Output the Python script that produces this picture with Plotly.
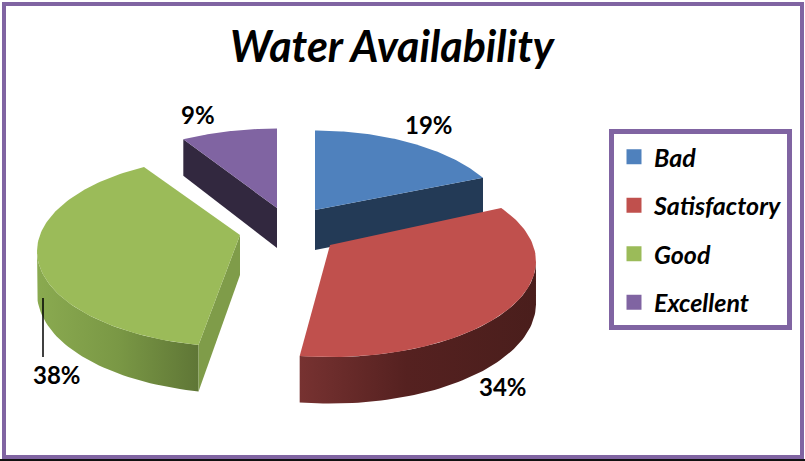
import numpy as np
import plotly.graph_objects as go

# --- data -------------------------------------------------------------
categories = ["Bad", "Satisfactory", "Good", "Excellent"]
percents = [19, 34, 38, 9]
title_text = "Water Availability"

# --- style / geometry of the fake-3D exploded pie -----------------------
W, H = 805, 461
FONT = "Lato"
top_colors = ["#4F81BD", "#C0504D", "#9BBB59", "#8064A2"]
apexes = [(315, 210), (330, 245), (240, 235), (277, 208)]   # exploded slice apexes (px)
slice_rx = [192, 203, 200, 200]
slice_rot = [0.0, -0.064, -0.015, 0.0]
RY, PERSP = 93, 0.17
cut_colors = ["#233A56", None, "#7F9C49", "#32283F"]
cut_at_end = [True, False, False, False]
wall_scales = [
    None,
    [[0, "#773231"], [0.45, "#552120"], [1, "#4A1E1C"]],
    [[0, "#8AAA50"], [0.5, "#7A9845"], [1, "#5F7636"]],
    None,
]
label_pos = [(429, 124), (503, 386), (57, 374), (198, 114)]


def project(theta, i):
    s, c = np.sin(theta + slice_rot[i]), np.cos(theta + slice_rot[i])
    d = 1 + PERSP * c
    return apexes[i][0] + slice_rx[i] * s / d, apexes[i][1] - RY * c / d


def depth(theta):
    return 41 - 5.5 * np.cos(theta)


fig = go.Figure()
fractions = np.array(percents) / sum(percents)
ends = np.cumsum(fractions) * 2 * np.pi
starts = ends - fractions * 2 * np.pi


def poly(xs, ys, **kw):
    fig.add_trace(go.Scatter(x=xs, y=ys, mode="lines", fill="toself", line=dict(width=0),
                             hoverinfo="skip", showlegend=False, **kw))


for i in [3, 0, 2, 1]:
    th = np.linspace(starts[i], ends[i], 90)
    rx, ry = project(th, i)
    # outer wall (only the part facing the viewer)
    if wall_scales[i] is not None:
        if i == 1:
            j = int(np.argmax(rx))
            tw = th[j:]
        else:
            j = int(np.argmin(rx))
            tw = th[:j + 1]
        wx, wy = project(tw, i)
        bx, by = wx, wy + depth(tw)
        poly(np.r_[wx, bx[::-1]], np.r_[wy, by[::-1]],
             fillgradient=dict(type="horizontal", colorscale=wall_scales[i]))
    # radial cut face
    if cut_colors[i] is not None:
        edge = ends[i] if cut_at_end[i] else starts[i]
        ex, ey = project(edge, i)
        ax, ay = apexes[i]
        poly([ax, ex, ex, ax], [ay, ey, ey + depth(edge), ay + 40], fillcolor=cut_colors[i])
    # top face
    poly(np.r_[apexes[i][0], rx], np.r_[apexes[i][1], ry], fillcolor=top_colors[i])

# legend entries
for i, cat in enumerate(categories):
    fig.add_trace(go.Scatter(x=[None], y=[None], mode="markers", name=cat, legendgroup=cat,
                             marker=dict(symbol="square", size=15, color=top_colors[i])))

# leader line of the 38% label
fig.add_trace(go.Scatter(x=[43, 43], y=[298, 357], mode="lines", showlegend=False, hoverinfo="skip",
                         line=dict(color="black", width=1.5)))

for p, (lx, ly) in zip(percents, label_pos):
    fig.add_annotation(x=lx, y=ly, text=f"<b>{p}%</b>", showarrow=False, xref="x", yref="y",
                       font=dict(family=FONT, size=24, color="black"))

fig.add_annotation(x=393, y=45, text=f"<b><i>{title_text}</i></b>", showarrow=False, xref="x", yref="y",
                   font=dict(family=FONT, size=43, color="black"))

# chart frame
fig.add_shape(type="rect", x0=4, y0=4, x1=802, y1=457, xref="x", yref="y",
              line=dict(color="#8064A2", width=4), layer="below")
fig.add_shape(type="line", x0=0, y0=460, x1=805, y1=460, xref="x", yref="y",
              line=dict(color="#111111", width=2), layer="below")

fig.update_layout(
    width=W, height=H, margin=dict(l=0, r=0, t=0, b=0),
    paper_bgcolor="white", plot_bgcolor="white",
    xaxis=dict(range=[0, W], visible=False, fixedrange=True),
    yaxis=dict(range=[H, 0], visible=False, fixedrange=True),
    showlegend=True,
    legend=dict(x=609 / W, y=1 - 129 / H, xanchor="left", yanchor="top",
                bgcolor="white", bordercolor="#8064A2", borderwidth=5,
                tracegroupgap=13, itemsizing="trace", itemwidth=30,
                font=dict(family=FONT, size=25, color="black", weight="bold", style="italic")),
)
fig.write_html("out.html", config={"displayModeBar": False},
               post_script="document.body.style.margin='0';document.body.style.overflow='hidden';")
